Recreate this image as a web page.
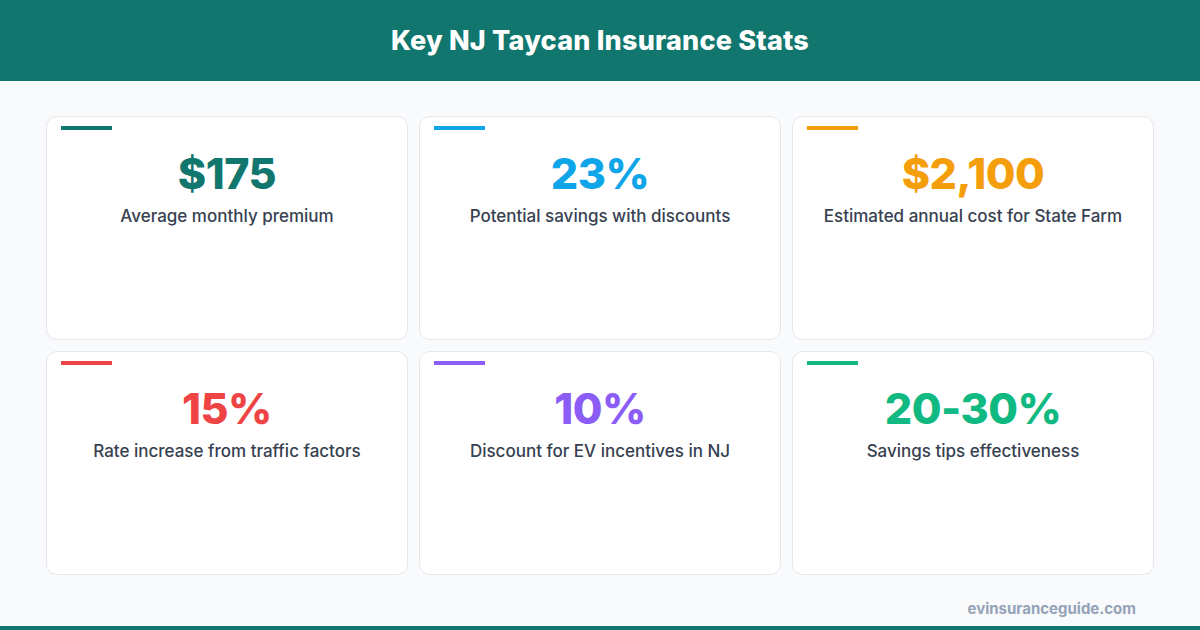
<!DOCTYPE html>
<html><head><meta charset="utf-8">
<script src="https://cdn.jsdelivr.net/npm/chart.js@4"></script>
<style>
html,body{margin:0;padding:0;width:1200px;height:630px;overflow:hidden;background:#f8fafc;font-family:Inter,"Open Sans",sans-serif;}
#hdr{position:absolute;left:0;top:0;width:1200px;height:81px;background:#10766e;color:#fff;font-weight:800;font-size:27px;text-align:center;line-height:81px;letter-spacing:0.2px}
#foot{position:absolute;left:0;top:626px;width:1200px;height:4px;background:#10766e}
#site{position:absolute;right:64px;top:599px;color:#94a3b8;font-weight:700;font-size:15px}
.card{position:absolute;width:362px;height:224px;background:#fff;border:1px solid #e5e7eb;border-radius:11px;box-sizing:border-box}
.bar{position:absolute;left:14px;top:9px;width:51px;height:4px}
.val{position:absolute;left:0;width:100%;top:30px;text-align:center;font-weight:800;font-size:43px;letter-spacing:-0.5px}
.lab{position:absolute;left:0;width:100%;top:89px;text-align:center;font-weight:500;font-size:17px;color:#374151}
</style></head><body>
<div id="hdr"></div>
<div id="cards"></div>
<div id="site"></div>
<div id="foot"></div>
<script>
const title = "Key NJ Taycan Insurance Stats";
const values = ["$175","23%","$2,100","15%","10%","20-30%"];
const labels = ["Average monthly premium","Potential savings with discounts","Estimated annual cost for State Farm","Rate increase from traffic factors","Discount for EV incentives in NJ","Savings tips effectiveness"];
const colors = ["#10766e","#0ea5e9","#f59e0b","#ef4444","#8b5cf6","#10b981"];
const site = "evinsuranceguide.com";
document.getElementById('hdr').textContent = title;
document.getElementById('site').textContent = site;
const wrap = document.getElementById('cards');
values.forEach((v,i)=>{
  const c=document.createElement('div');c.className='card';
  c.style.left=(46+(i%3)*373)+'px';c.style.top=(116+Math.floor(i/3)*235)+'px';
  c.innerHTML=`<div class="bar" style="background:${colors[i]}"></div><div class="val" style="color:${colors[i]}">${v}</div><div class="lab">${labels[i]}</div>`;
  wrap.appendChild(c);
});
</script>
</body></html>
